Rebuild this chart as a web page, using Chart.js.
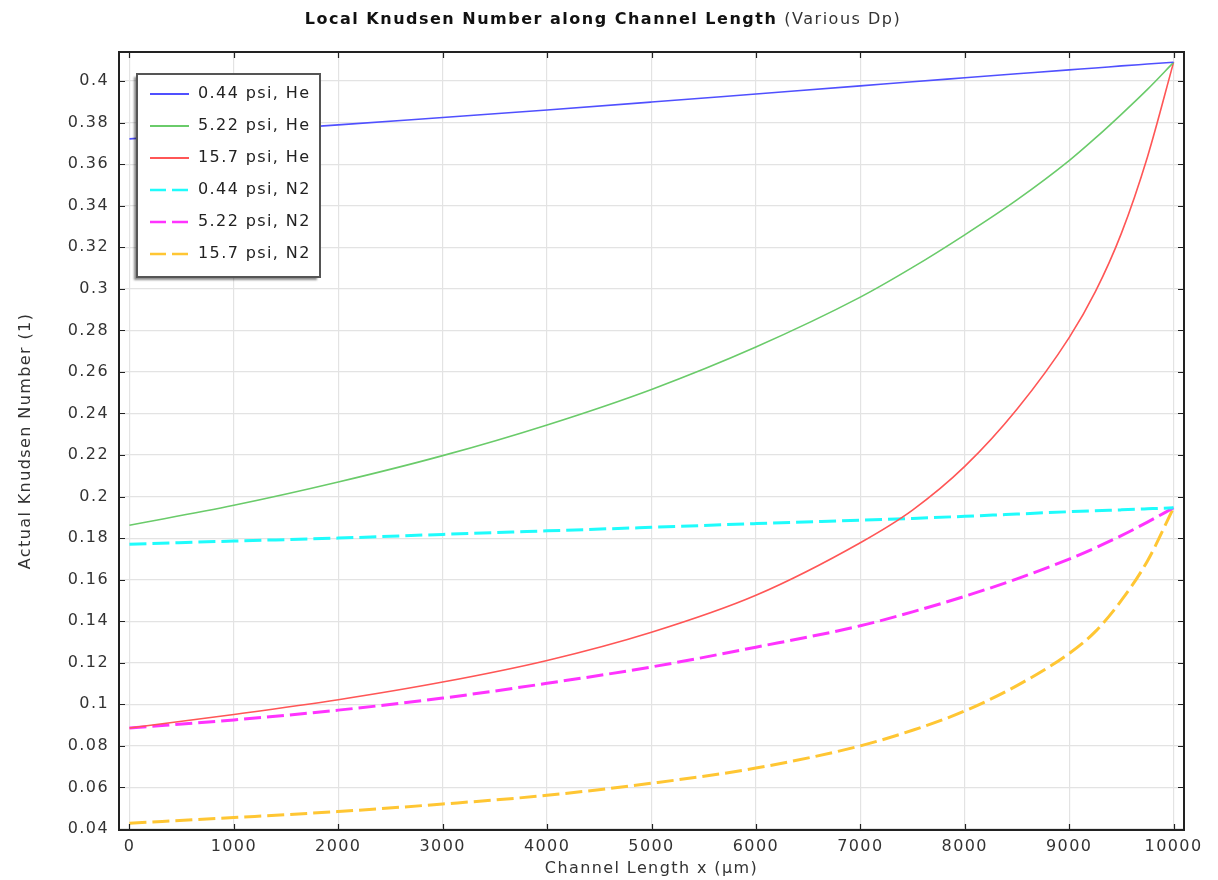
<!DOCTYPE html>
<html>
<head>
<meta charset="utf-8">
<title>Local Knudsen Number</title>
<script src="https://cdn.jsdelivr.net/npm/chart.js@4"></script>
<style>
  body { margin: 0; background: #fff; }
  canvas { display: block; }
</style>
</head>
<body>
<canvas id="knChart" width="1218" height="880"></canvas>
<script>
// positions along the channel (µm)
const xPos = [0, 1000, 2000, 3000, 4000, 5000, 6000, 7000, 7500, 8000, 8500, 9000, 9250, 9500, 9750, 10000];

// local Knudsen number, helium
const heLow  = [0.3722, 0.3755, 0.3789, 0.3825, 0.3861, 0.3899, 0.3938, 0.3977, 0.3997, 0.4016, 0.4035, 0.4054, 0.4063, 0.4073, 0.4082, 0.4091];
const heMid  = [0.1862, 0.1958, 0.2070, 0.2197, 0.2345, 0.2516, 0.2720, 0.2960, 0.3103, 0.3260, 0.3428, 0.3617, 0.3725, 0.3840, 0.3960, 0.4090];
const heHigh = [0.0886, 0.0951, 0.1022, 0.1107, 0.1211, 0.1347, 0.1525, 0.1778, 0.1935, 0.2145, 0.2420, 0.2765, 0.2985, 0.3267, 0.3635, 0.4090];

// local Knudsen number, nitrogen
const n2Low  = [0.1771, 0.1786, 0.1800, 0.1818, 0.1835, 0.1852, 0.1870, 0.1886, 0.1895, 0.1905, 0.1916, 0.1927, 0.1932, 0.1936, 0.1941, 0.1946];
const n2Mid  = [0.0886, 0.0925, 0.0972, 0.1030, 0.1101, 0.1180, 0.1275, 0.1378, 0.1445, 0.1520, 0.1604, 0.1699, 0.1753, 0.1812, 0.1877, 0.1946];
const n2High = [0.0428, 0.0455, 0.0484, 0.0520, 0.0562, 0.0620, 0.0693, 0.0800, 0.0875, 0.0968, 0.1090, 0.1245, 0.1350, 0.1500, 0.1690, 0.1946];

const seriesNames = ['0.44 psi, He', '5.22 psi, He', '15.7 psi, He', '0.44 psi, N2', '5.22 psi, N2', '15.7 psi, N2'];
const seriesValues = [heLow, heMid, heHigh, n2Low, n2Mid, n2High];
const seriesColors = ['#5050ff', '#6acb6a', '#ff5656', '#1ffcfc', '#ff33ff', '#ffc633'];
const dashed = [false, false, false, true, true, true];

// axis tick values
const xTicks = [0, 1000, 2000, 3000, 4000, 5000, 6000, 7000, 8000, 9000, 10000];
const yTicks = [0.04, 0.06, 0.08, 0.1, 0.12, 0.14, 0.16, 0.18, 0.2, 0.22, 0.24, 0.26, 0.28, 0.3, 0.32, 0.34, 0.36, 0.38, 0.4];

const FONT = '"DejaVu Sans", sans-serif';
const textColor = '#333';

const datasets = seriesValues.map((vals, i) => ({
    label: seriesNames[i],
    data: vals.map((v, k) => ({ x: xPos[k], y: v })),
    borderColor: seriesColors[i],
    borderWidth: dashed[i] ? 3 : 1.6,
    borderDash: dashed[i] ? [17, 6] : [],
    pointRadius: 0,
    fill: false,
    cubicInterpolationMode: 'monotone'
}));

// wide tracking on all canvas text
const spacing = {
    id: 'spacing',
    beforeLayout(chart) { chart.ctx.letterSpacing = '1.4px'; },
    beforeDraw(chart) { chart.ctx.letterSpacing = '1.4px'; }
};

// box around the plot with inward ticks on all four sides
const frame = {
    id: 'frame',
    afterDatasetsDraw(chart) {
        const { ctx, chartArea: a, scales } = chart;
        const len = 6;
        ctx.save();
        ctx.strokeStyle = '#222';
        ctx.lineWidth = 1.2;
        ctx.beginPath();
        scales.x.ticks.forEach(t => {
            const px = Math.round(scales.x.getPixelForValue(t.value)) + 0.5;
            ctx.moveTo(px, a.bottom); ctx.lineTo(px, a.bottom - len);
            ctx.moveTo(px, a.top); ctx.lineTo(px, a.top + len);
        });
        scales.y.ticks.forEach(t => {
            const py = Math.round(scales.y.getPixelForValue(t.value)) + 0.5;
            ctx.moveTo(a.left, py); ctx.lineTo(a.left + len, py);
            ctx.moveTo(a.right, py); ctx.lineTo(a.right - len, py);
        });
        ctx.stroke();
        ctx.lineWidth = 2;
        ctx.strokeRect(a.left, a.top, a.right - a.left, a.bottom - a.top);
        ctx.restore();
    }
};

// legend box in the upper left of the plot
const legendBox = {
    id: 'legendBox',
    afterDraw(chart) {
        const ctx = chart.ctx;
        const bx = 137, by = 74, bw = 183, bh = 203;
        ctx.save();
        ctx.shadowColor = 'rgba(0,0,0,0.45)';
        ctx.shadowOffsetX = -3;
        ctx.shadowOffsetY = 3;
        ctx.shadowBlur = 2;
        ctx.fillStyle = '#fff';
        ctx.fillRect(bx, by, bw, bh);
        ctx.restore();

        ctx.save();
        ctx.strokeStyle = '#555';
        ctx.lineWidth = 2;
        ctx.strokeRect(bx, by, bw, bh);
        ctx.font = '16px ' + FONT;
        ctx.letterSpacing = '1.4px';
        ctx.textBaseline = 'middle';
        ctx.fillStyle = '#222';
        seriesNames.forEach((name, i) => {
            const y = 94 + i * 32;
            ctx.beginPath();
            ctx.strokeStyle = seriesColors[i];
            ctx.lineWidth = dashed[i] ? 2.5 : 2;
            ctx.setLineDash(dashed[i] ? [16, 6] : []);
            ctx.moveTo(150, y);
            ctx.lineTo(189, y);
            ctx.stroke();
            ctx.fillText(name, 198, y);
        });
        ctx.restore();
    }
};

// title: bold main text followed by a plain note
const heading = {
    id: 'heading',
    afterDraw(chart) {
        const ctx = chart.ctx;
        const main = 'Local Knudsen Number along Channel Length';
        const note = '(Various Dp)';
        ctx.save();
        ctx.letterSpacing = '1.5px';
        ctx.textBaseline = 'alphabetic';
        ctx.font = 'bold 16px ' + FONT;
        const w1 = ctx.measureText(main + ' ').width;
        ctx.font = '16px ' + FONT;
        const w2 = ctx.measureText(note).width;
        const x = 603 - (w1 + w2) / 2;
        ctx.fillStyle = '#111';
        ctx.font = 'bold 16px ' + FONT;
        ctx.fillText(main + ' ', x, 24);
        ctx.fillStyle = '#333';
        ctx.font = '16px ' + FONT;
        ctx.fillText(note, x + w1, 24);
        ctx.restore();
    }
};

const tickFont = { family: FONT, size: 16 };

new Chart(document.getElementById('knChart'), {
    type: 'line',
    data: { datasets: datasets },
    options: {
        responsive: false,
        animation: false,
        layout: { padding: { top: 52, right: 34, left: 0, bottom: 0 } },
        plugins: {
            legend: { display: false },
            tooltip: { enabled: false }
        },
        scales: {
            x: {
                type: 'linear',
                min: -100,
                max: 10100,
                afterBuildTicks(scale) { scale.ticks = xTicks.map(v => ({ value: v })); },
                afterFit(scale) { scale.height = 50; },
                border: { display: false },
                grid: { color: '#e3e3e3', lineWidth: 1.2, drawTicks: false },
                ticks: {
                    autoSkip: false,
                    maxRotation: 0,
                    padding: 7,
                    color: textColor,
                    font: tickFont,
                    callback: v => String(v)
                },
                title: {
                    display: true,
                    text: 'Channel Length x (µm)',
                    color: textColor,
                    font: tickFont,
                    padding: { top: 0, bottom: 2 }
                }
            },
            y: {
                min: 0.0395,
                max: 0.414,
                afterBuildTicks(scale) { scale.ticks = yTicks.map(v => ({ value: v })); },
                afterFit(scale) { scale.width = 119; },
                border: { display: false },
                grid: { color: '#e3e3e3', lineWidth: 1.2, drawTicks: false },
                ticks: {
                    autoSkip: false,
                    padding: 10,
                    color: textColor,
                    font: tickFont,
                    callback: v => String(+v.toFixed(2))
                },
                title: {
                    display: true,
                    text: 'Actual Knudsen Number (1)',
                    color: textColor,
                    font: tickFont,
                    padding: { top: 16, bottom: 0 }
                }
            }
        }
    },
    plugins: [spacing, frame, legendBox, heading]
});
</script>
</body>
</html>
